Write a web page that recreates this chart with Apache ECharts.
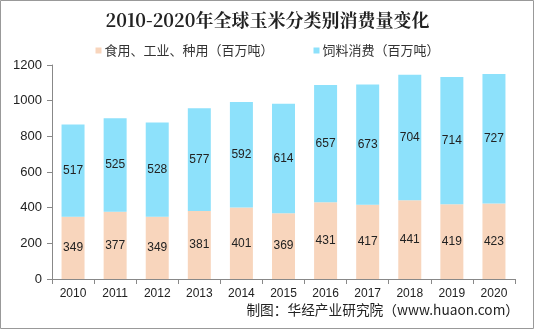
<!DOCTYPE html>
<html><head><meta charset="utf-8">
<script src="https://cdn.jsdelivr.net/npm/echarts@6/dist/echarts.min.js"></script>
<style>html,body{margin:0;padding:0;background:#fff}#c{width:535px;height:336px}</style>
</head><body><div id="c"></div>
<script>
const years = ['2010','2011','2012','2013','2014','2015','2016','2017','2018','2019','2020'];
const foodIndustrySeed = [349,377,349,381,401,369,431,417,441,419,423];
const feed = [517,525,528,577,592,614,657,673,704,714,727];
const yTicks = [0,200,400,600,800,1000,1200];
const seriesNames = ['食用、工业、种用（百万吨）','饲料消费（百万吨）'];

const FONT = 'Arial, "Liberation Sans", sans-serif';
const chart = echarts.init(document.getElementById('c'), null, {renderer:'canvas'});
const lbl = {show:true, position:'inside', color:'#222', fontSize:12, fontFamily:FONT};
chart.setOption({
  animation:false,
  title:{text:'2010-2020年全球玉米分类别消费量变化', left:'center', top:6,
    textStyle:{fontSize:18, fontWeight:'bold', color:'#222', fontFamily:'"Noto Serif CJK SC","Noto Sans CJK SC",serif'}},
  legend:{top:39, left:'center', itemWidth:6, itemHeight:6, itemGap:40, icon:'rect',
    textStyle:{fontSize:13, color:'#333', fontFamily:'"Noto Sans CJK SC",sans-serif', padding:[0,0,0,-2]},
    data:seriesNames},
  grid:{left:52, right:20, top:65, bottom:57},
  xAxis:{type:'category', data:years,
    axisLine:{lineStyle:{color:'#888'}},
    axisTick:{show:true, alignWithLabel:false, length:5, lineStyle:{color:'#888'}},
    axisLabel:{color:'#222', fontSize:12, margin:9, fontFamily:FONT}},
  yAxis:{type:'value', min:yTicks[0], max:yTicks[yTicks.length-1], interval:200,
    axisLine:{show:true, lineStyle:{color:'#888'}},
    axisTick:{show:true, length:5, lineStyle:{color:'#888'}},
    splitLine:{show:false},
    axisLabel:{color:'#222', fontSize:13, margin:10, fontFamily:FONT, formatter:v=>String(v)}},
  series:[
    {name:seriesNames[0], type:'bar', stack:'a', data:foodIndustrySeed, barWidth:23,
      itemStyle:{color:'#F8D5BC'}, label:lbl},
    {name:seriesNames[1], type:'bar', stack:'a', data:feed, barWidth:23,
      itemStyle:{color:'#8DE1FB'}, label:lbl}
  ],
  graphic:[
    {type:'rect', shape:{x:0.5,y:0.5,width:533,height:328}, style:{fill:'none', stroke:'#999', lineWidth:1}, silent:true},
    {type:'text', right:16, top:303, style:{text:'制图：华经产业研究院（www.huaon.com）', fontSize:13.7, fill:'#222', fontFamily:'"Noto Sans CJK SC",sans-serif'}}
  ]
});
</script></body></html>
